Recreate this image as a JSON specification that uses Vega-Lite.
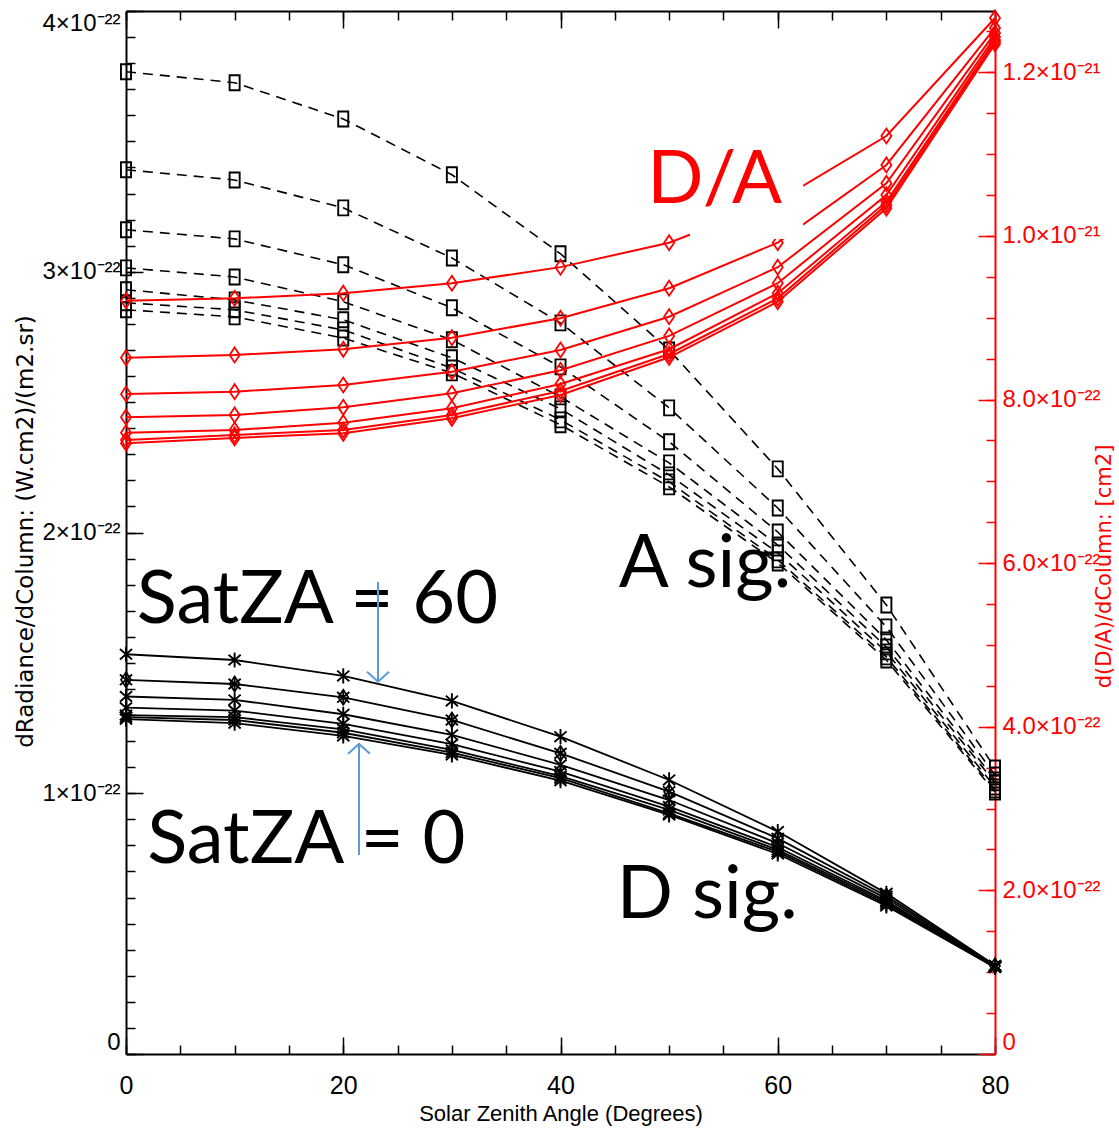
{
  "$schema": "https://vega.github.io/schema/vega-lite/v6.json",
  "width": 869,
  "height": 1043,
  "autosize": {"type": "none"},
  "padding": {"left": 126, "top": 11, "right": 124, "bottom": 77},
  "background": "white",
  "config": {
    "view": {"stroke": null},
    "axis": {"grid": false, "labelOverlap": false, "labelBound": false, "domainWidth": 2, "tickWidth": 1.5}
  },
  "datasets": {
    "curves": [
      {"signal":"A","satza":60,"sza":0,"value":3.767e-22},{"signal":"A","satza":60,"sza":10,"value":3.725e-22},{"signal":"A","satza":60,"sza":20,"value":3.586e-22},{"signal":"A","satza":60,"sza":30,"value":3.372e-22},{"signal":"A","satza":60,"sza":40,"value":3.069e-22},{"signal":"A","satza":60,"sza":50,"value":2.700e-22},{"signal":"A","satza":60,"sza":60,"value":2.244e-22},{"signal":"A","satza":60,"sza":70,"value":1.722e-22},{"signal":"A","satza":60,"sza":80,"value":1.097e-22},
      {"signal":"A","satza":50,"sza":0,"value":3.391e-22},{"signal":"A","satza":50,"sza":10,"value":3.352e-22},{"signal":"A","satza":50,"sza":20,"value":3.245e-22},{"signal":"A","satza":50,"sza":30,"value":3.053e-22},{"signal":"A","satza":50,"sza":40,"value":2.804e-22},{"signal":"A","satza":50,"sza":50,"value":2.478e-22},{"signal":"A","satza":50,"sza":60,"value":2.094e-22},{"signal":"A","satza":50,"sza":70,"value":1.638e-22},{"signal":"A","satza":50,"sza":80,"value":1.070e-22},
      {"signal":"A","satza":40,"sza":0,"value":3.161e-22},{"signal":"A","satza":40,"sza":10,"value":3.126e-22},{"signal":"A","satza":40,"sza":20,"value":3.027e-22},{"signal":"A","satza":40,"sza":30,"value":2.862e-22},{"signal":"A","satza":40,"sza":40,"value":2.635e-22},{"signal":"A","satza":40,"sza":50,"value":2.348e-22},{"signal":"A","satza":40,"sza":60,"value":2.002e-22},{"signal":"A","satza":40,"sza":70,"value":1.588e-22},{"signal":"A","satza":40,"sza":80,"value":1.051e-22},
      {"signal":"A","satza":30,"sza":0,"value":3.015e-22},{"signal":"A","satza":30,"sza":10,"value":2.980e-22},{"signal":"A","satza":30,"sza":20,"value":2.885e-22},{"signal":"A","satza":30,"sza":30,"value":2.739e-22},{"signal":"A","satza":30,"sza":40,"value":2.520e-22},{"signal":"A","satza":30,"sza":50,"value":2.267e-22},{"signal":"A","satza":30,"sza":60,"value":1.952e-22},{"signal":"A","satza":30,"sza":70,"value":1.561e-22},{"signal":"A","satza":30,"sza":80,"value":1.040e-22},
      {"signal":"A","satza":20,"sza":0,"value":2.931e-22},{"signal":"A","satza":20,"sza":10,"value":2.892e-22},{"signal":"A","satza":20,"sza":20,"value":2.816e-22},{"signal":"A","satza":20,"sza":30,"value":2.670e-22},{"signal":"A","satza":20,"sza":40,"value":2.474e-22},{"signal":"A","satza":20,"sza":50,"value":2.221e-22},{"signal":"A","satza":20,"sza":60,"value":1.922e-22},{"signal":"A","satza":20,"sza":70,"value":1.542e-22},{"signal":"A","satza":20,"sza":80,"value":1.024e-22},
      {"signal":"A","satza":10,"sza":0,"value":2.881e-22},{"signal":"A","satza":10,"sza":10,"value":2.854e-22},{"signal":"A","satza":10,"sza":20,"value":2.777e-22},{"signal":"A","satza":10,"sza":30,"value":2.631e-22},{"signal":"A","satza":10,"sza":40,"value":2.432e-22},{"signal":"A","satza":10,"sza":50,"value":2.194e-22},{"signal":"A","satza":10,"sza":60,"value":1.895e-22},{"signal":"A","satza":10,"sza":70,"value":1.523e-22},{"signal":"A","satza":10,"sza":80,"value":1.013e-22},
      {"signal":"A","satza":0,"sza":0,"value":2.854e-22},{"signal":"A","satza":0,"sza":10,"value":2.827e-22},{"signal":"A","satza":0,"sza":20,"value":2.746e-22},{"signal":"A","satza":0,"sza":30,"value":2.612e-22},{"signal":"A","satza":0,"sza":40,"value":2.413e-22},{"signal":"A","satza":0,"sza":50,"value":2.175e-22},{"signal":"A","satza":0,"sza":60,"value":1.883e-22},{"signal":"A","satza":0,"sza":70,"value":1.511e-22},{"signal":"A","satza":0,"sza":80,"value":1.005e-22},
      {"signal":"D","satza":60,"sza":0,"value":1.533e-22},{"signal":"D","satza":60,"sza":10,"value":1.511e-22},{"signal":"D","satza":60,"sza":20,"value":1.450e-22},{"signal":"D","satza":60,"sza":30,"value":1.354e-22},{"signal":"D","satza":60,"sza":40,"value":1.217e-22},{"signal":"D","satza":60,"sza":50,"value":1.051e-22},{"signal":"D","satza":60,"sza":60,"value":0.853e-22},{"signal":"D","satza":60,"sza":70,"value":0.616e-22},{"signal":"D","satza":60,"sza":80,"value":0.340e-22},
      {"signal":"D","satza":50,"sza":0,"value":1.435e-22},{"signal":"D","satza":50,"sza":10,"value":1.419e-22},{"signal":"D","satza":50,"sza":20,"value":1.368e-22},{"signal":"D","satza":50,"sza":30,"value":1.281e-22},{"signal":"D","satza":50,"sza":40,"value":1.153e-22},{"signal":"D","satza":50,"sza":50,"value":1.006e-22},{"signal":"D","satza":50,"sza":60,"value":0.827e-22},{"signal":"D","satza":50,"sza":70,"value":0.606e-22},{"signal":"D","satza":50,"sza":80,"value":0.338e-22},
      {"signal":"D","satza":40,"sza":0,"value":1.371e-22},{"signal":"D","satza":40,"sza":10,"value":1.358e-22},{"signal":"D","satza":40,"sza":20,"value":1.303e-22},{"signal":"D","satza":40,"sza":30,"value":1.224e-22},{"signal":"D","satza":40,"sza":40,"value":1.109e-22},{"signal":"D","satza":40,"sza":50,"value":0.974e-22},{"signal":"D","satza":40,"sza":60,"value":0.808e-22},{"signal":"D","satza":40,"sza":70,"value":0.597e-22},{"signal":"D","satza":40,"sza":80,"value":0.336e-22},
      {"signal":"D","satza":30,"sza":0,"value":1.328e-22},{"signal":"D","satza":30,"sza":10,"value":1.317e-22},{"signal":"D","satza":30,"sza":20,"value":1.266e-22},{"signal":"D","satza":30,"sza":30,"value":1.188e-22},{"signal":"D","satza":30,"sza":40,"value":1.083e-22},{"signal":"D","satza":30,"sza":50,"value":0.949e-22},{"signal":"D","satza":30,"sza":60,"value":0.793e-22},{"signal":"D","satza":30,"sza":70,"value":0.588e-22},{"signal":"D","satza":30,"sza":80,"value":0.335e-22},
      {"signal":"D","satza":20,"sza":0,"value":1.300e-22},{"signal":"D","satza":20,"sza":10,"value":1.292e-22},{"signal":"D","satza":20,"sza":20,"value":1.245e-22},{"signal":"D","satza":20,"sza":30,"value":1.166e-22},{"signal":"D","satza":20,"sza":40,"value":1.066e-22},{"signal":"D","satza":20,"sza":50,"value":0.936e-22},{"signal":"D","satza":20,"sza":60,"value":0.783e-22},{"signal":"D","satza":20,"sza":70,"value":0.582e-22},{"signal":"D","satza":20,"sza":80,"value":0.334e-22},
      {"signal":"D","satza":10,"sza":0,"value":1.292e-22},{"signal":"D","satza":10,"sza":10,"value":1.281e-22},{"signal":"D","satza":10,"sza":20,"value":1.232e-22},{"signal":"D","satza":10,"sza":30,"value":1.156e-22},{"signal":"D","satza":10,"sza":40,"value":1.058e-22},{"signal":"D","satza":10,"sza":50,"value":0.923e-22},{"signal":"D","satza":10,"sza":60,"value":0.775e-22},{"signal":"D","satza":10,"sza":70,"value":0.575e-22},{"signal":"D","satza":10,"sza":80,"value":0.333e-22},
      {"signal":"D","satza":0,"sza":0,"value":1.284e-22},{"signal":"D","satza":0,"sza":10,"value":1.269e-22},{"signal":"D","satza":0,"sza":20,"value":1.220e-22},{"signal":"D","satza":0,"sza":30,"value":1.147e-22},{"signal":"D","satza":0,"sza":40,"value":1.048e-22},{"signal":"D","satza":0,"sza":50,"value":0.917e-22},{"signal":"D","satza":0,"sza":60,"value":0.767e-22},{"signal":"D","satza":0,"sza":70,"value":0.568e-22},{"signal":"D","satza":0,"sza":80,"value":0.332e-22},
      {"signal":"DA","satza":60,"sza":0,"value":9.209e-22},{"signal":"DA","satza":60,"sza":10,"value":9.238e-22},{"signal":"DA","satza":60,"sza":20,"value":9.300e-22},{"signal":"DA","satza":60,"sza":30,"value":9.422e-22},{"signal":"DA","satza":60,"sza":40,"value":9.619e-22},{"signal":"DA","satza":60,"sza":50,"value":9.918e-22},{"signal":"DA","satza":60,"sza":60,"value":10.428e-22},{"signal":"DA","satza":60,"sza":70,"value":11.222e-22},{"signal":"DA","satza":60,"sza":80,"value":12.665e-22},
      {"signal":"DA","satza":50,"sza":0,"value":8.512e-22},{"signal":"DA","satza":50,"sza":10,"value":8.545e-22},{"signal":"DA","satza":50,"sza":20,"value":8.615e-22},{"signal":"DA","satza":50,"sza":30,"value":8.757e-22},{"signal":"DA","satza":50,"sza":40,"value":8.994e-22},{"signal":"DA","satza":50,"sza":50,"value":9.361e-22},{"signal":"DA","satza":50,"sza":60,"value":9.918e-22},{"signal":"DA","satza":50,"sza":70,"value":10.868e-22},{"signal":"DA","satza":50,"sza":80,"value":12.543e-22},
      {"signal":"DA","satza":40,"sza":0,"value":8.068e-22},{"signal":"DA","satza":40,"sza":10,"value":8.097e-22},{"signal":"DA","satza":40,"sza":20,"value":8.178e-22},{"signal":"DA","satza":40,"sza":30,"value":8.341e-22},{"signal":"DA","satza":40,"sza":40,"value":8.606e-22},{"signal":"DA","satza":40,"sza":50,"value":9.013e-22},{"signal":"DA","satza":40,"sza":60,"value":9.618e-22},{"signal":"DA","satza":40,"sza":70,"value":10.644e-22},{"signal":"DA","satza":40,"sza":80,"value":12.482e-22},
      {"signal":"DA","satza":30,"sza":0,"value":7.784e-22},{"signal":"DA","satza":30,"sza":10,"value":7.812e-22},{"signal":"DA","satza":30,"sza":20,"value":7.906e-22},{"signal":"DA","satza":30,"sza":30,"value":8.077e-22},{"signal":"DA","satza":30,"sza":40,"value":8.358e-22},{"signal":"DA","satza":30,"sza":50,"value":8.778e-22},{"signal":"DA","satza":30,"sza":60,"value":9.422e-22},{"signal":"DA","satza":30,"sza":70,"value":10.501e-22},{"signal":"DA","satza":30,"sza":80,"value":12.433e-22},
      {"signal":"DA","satza":20,"sza":0,"value":7.595e-22},{"signal":"DA","satza":20,"sza":10,"value":7.628e-22},{"signal":"DA","satza":20,"sza":20,"value":7.718e-22},{"signal":"DA","satza":20,"sza":30,"value":7.894e-22},{"signal":"DA","satza":20,"sza":40,"value":8.191e-22},{"signal":"DA","satza":20,"sza":50,"value":8.615e-22},{"signal":"DA","satza":20,"sza":60,"value":9.300e-22},{"signal":"DA","satza":20,"sza":70,"value":10.419e-22},{"signal":"DA","satza":20,"sza":80,"value":12.396e-22},
      {"signal":"DA","satza":10,"sza":0,"value":7.506e-22},{"signal":"DA","satza":10,"sza":10,"value":7.567e-22},{"signal":"DA","satza":10,"sza":20,"value":7.628e-22},{"signal":"DA","satza":10,"sza":30,"value":7.812e-22},{"signal":"DA","satza":10,"sza":40,"value":8.105e-22},{"signal":"DA","satza":10,"sza":50,"value":8.557e-22},{"signal":"DA","satza":10,"sza":60,"value":9.238e-22},{"signal":"DA","satza":10,"sza":70,"value":10.379e-22},{"signal":"DA","satza":10,"sza":80,"value":12.372e-22},
      {"signal":"DA","satza":0,"sza":0,"value":7.466e-22},{"signal":"DA","satza":0,"sza":10,"value":7.531e-22},{"signal":"DA","satza":0,"sza":20,"value":7.588e-22},{"signal":"DA","satza":0,"sza":30,"value":7.771e-22},{"signal":"DA","satza":0,"sza":40,"value":8.056e-22},{"signal":"DA","satza":0,"sza":50,"value":8.517e-22},{"signal":"DA","satza":0,"sza":60,"value":9.196e-22},{"signal":"DA","satza":0,"sza":70,"value":10.339e-22},{"signal":"DA","satza":0,"sza":80,"value":12.347e-22}
    ],
    "notes": [
      {"label": "SatZA = 60", "sza": 1.0, "value": 1.653e-22, "anchor": "left"},
      {"label": "SatZA = 0", "sza": 1.95, "value": 0.733e-22, "anchor": "left"},
      {"label": "A sig.", "sza": 53.3, "value": 1.791e-22, "anchor": "center"},
      {"label": "D sig.", "sza": 53.5, "value": 0.522e-22, "anchor": "center"}
    ],
    "arrows": [
      {"arrow": "SatZA = 60", "sza": 23.2, "from": 1.81e-22, "to": 1.428e-22},
      {"arrow": "SatZA = 0", "sza": 21.45, "from": 0.763e-22, "to": 1.189e-22}
    ]
  },
  "data": {"name": "curves"},
  "layer": [
    {
      "encoding": {
        "x": {"field": "sza", "type": "quantitative", "scale": {"domain": [0, 80], "nice": false, "zero": false}, "axis": null},
        "y": {"field": "value", "type": "quantitative", "scale": {"domain": [0, 4e-22], "nice": false, "zero": false}, "axis": null}
      },
      "layer": [
        {
          "transform": [{"filter": "datum.signal === 'A'"}],
          "mark": {"type": "line", "color": "black", "strokeWidth": 1.6, "strokeDash": [10, 7]},
          "encoding": {
            "detail": {"field": "satza", "type": "nominal"},
            "x": {
              "field": "sza", "type": "quantitative", "scale": {"domain": [0, 80], "nice": false, "zero": false},
              "axis": {
                "orient": "bottom", "values": [0, 20, 40, 60, 80], "tickSize": -17,
                "tickColor": "black", "domainColor": "black", "labelFlush": false,
                "labelFont": "Liberation Sans Narrow, Liberation Sans", "labelFontSize": 25, "labelColor": "black", "labelPadding": 36,
                "title": "Solar Zenith Angle (Degrees)",
                "titleFont": "Liberation Sans Narrow, Liberation Sans", "titleFontSize": 22, "titleFontWeight": "normal", "titleColor": "black",
                "titleY": 59, "titleBaseline": "middle"
              }
            },
            "y": {
              "field": "value", "type": "quantitative", "scale": {"domain": [0, 4e-22], "nice": false, "zero": false},
              "axis": {
                "orient": "left", "values": [0, 1e-22, 2e-22, 3e-22, 4e-22], "tickSize": -17,
                "tickColor": "black", "domainColor": "black",
                "labelExpr": "datum.value == 0 ? '0' : format(datum.value*1e22, 'd') + '×10⁻²²'",
                "labelFont": "Liberation Sans", "labelFontSize": 24, "labelColor": "black",
                "labelPadding": 23, "labelFlush": true,
                "title": "dRadiance/dColumn: (W.cm2)/(m2.sr)",
                "titleFont": "DejaVu Sans", "titleFontSize": 23, "titleFontWeight": "normal", "titleColor": "black",
                "titleAngle": -90, "titleX": -101, "titleY": 520, "titleBaseline": "middle", "titleAlign": "center"
              }
            }
          }
        },
        {
          "transform": [{"filter": "datum.signal === 'A'"}],
          "mark": {"type": "point", "shape": "M-0.67,-1L0.67,-1L0.67,1L-0.67,1Z", "size": 225, "filled": false, "color": "black", "strokeWidth": 1.9, "opacity": 1},
          "encoding": {
            "x": {
              "field": "sza", "type": "quantitative", "scale": {"domain": [0, 80], "nice": false, "zero": false},
              "axis": {"orient": "bottom", "values": [0,5,10,15,20,25,30,35,40,45,50,55,60,65,70,75,80], "tickSize": -9, "tickColor": "black", "domain": false, "labels": false, "title": null}
            },
            "y": {
              "field": "value", "type": "quantitative", "scale": {"domain": [0, 4e-22], "nice": false, "zero": false},
              "axis": {"orient": "left", "values": [0,1e-23,2e-23,3e-23,4e-23,5e-23,6e-23,7e-23,8e-23,9e-23,1e-22,1.1e-22,1.2e-22,1.3e-22,1.4e-22,1.5e-22,1.6e-22,1.7e-22,1.8e-22,1.9e-22,2e-22,2.1e-22,2.2e-22,2.3e-22,2.4e-22,2.5e-22,2.6e-22,2.7e-22,2.8e-22,2.9e-22,3e-22,3.1e-22,3.2e-22,3.3e-22,3.4e-22,3.5e-22,3.6e-22,3.7e-22,3.8e-22,3.9e-22,4e-22], "tickSize": -9, "tickColor": "black", "domain": false, "labels": false, "title": null}
            }
          }
        },
        {
          "transform": [{"filter": "datum.signal === 'D'"}],
          "mark": {"type": "line", "color": "black", "strokeWidth": 1.8},
          "encoding": {"detail": {"field": "satza", "type": "nominal"}}
        },
        {
          "transform": [{"filter": "datum.signal === 'D'"}],
          "mark": {"type": "point", "shape": "M0,-1L0,1M-0.8,-0.7L0.8,0.7M-0.8,0.7L0.8,-0.7", "size": 230, "filled": false, "color": "black", "strokeWidth": 1.9, "opacity": 1}
        },
        {
          "transform": [{"filter": "datum.signal === 'D' && datum.satza === 50"}],
          "mark": {"type": "point", "shape": "M0,-1L0.67,0L0,1L-0.67,0Z", "size": 225, "filled": false, "color": "black", "strokeWidth": 1.7, "opacity": 1}
        },
        {
          "data": {"name": "notes"},
          "transform": [{"filter": "datum.anchor === 'left'"}],
          "mark": {"type": "text", "font": "Lato", "fontSize": 74, "align": "left", "baseline": "alphabetic", "color": "black"},
          "encoding": {"text": {"field": "label"}}
        },
        {
          "data": {"name": "notes"},
          "transform": [{"filter": "datum.anchor === 'center'"}],
          "mark": {"type": "text", "font": "Lato", "fontSize": 74, "align": "center", "baseline": "alphabetic", "color": "black"},
          "encoding": {"text": {"field": "label"}}
        },
        {
          "data": {"name": "arrows"},
          "mark": {"type": "rule", "color": "#5B9BD5", "strokeWidth": 2},
          "encoding": {"y": {"field": "from", "type": "quantitative", "axis": null}, "y2": {"field": "to"}}
        },
        {
          "data": {"name": "arrows"},
          "mark": {"type": "point", "size": 480, "filled": false, "color": "#5B9BD5", "strokeWidth": 2, "opacity": 1},
          "encoding": {
            "y": {"field": "to", "type": "quantitative", "axis": null},
            "shape": {"field": "arrow", "type": "nominal", "scale": {"domain": ["SatZA = 60", "SatZA = 0"], "range": ["M-1,-0.9L0,0L1,-0.9", "M-1,0.9L0,0L1,0.9"]}, "legend": null}
          }
        }
      ],
      "resolve": {"axis": {"x": "independent", "y": "independent"}}
    },
    {
      "encoding": {
        "x": {"field": "sza", "type": "quantitative", "scale": {"domain": [0, 80], "nice": false, "zero": false}, "axis": null},
        "y": {"field": "value", "type": "quantitative", "scale": {"domain": [0, 1.275e-21], "nice": false, "zero": false}, "axis": null}
      },
      "layer": [
        {
          "transform": [{"filter": "datum.signal === 'DA'"}],
          "mark": {"type": "line", "color": "#ff0000", "strokeWidth": 2},
          "encoding": {
            "detail": {"field": "satza", "type": "nominal"},
            "x": {
              "field": "sza", "type": "quantitative", "scale": {"domain": [0, 80], "nice": false, "zero": false},
              "axis": {"orient": "top", "values": [0, 20, 40, 60, 80], "tickSize": -17, "tickColor": "black", "domainColor": "black", "labels": false, "title": null}
            },
            "y": {
              "field": "value", "type": "quantitative", "scale": {"domain": [0, 1.275e-21], "nice": false, "zero": false},
              "axis": {
                "orient": "right", "values": [0, 2e-22, 4e-22, 6e-22, 8e-22, 1e-21, 1.2e-21], "tickSize": -17,
                "tickColor": "#ff0000", "domainColor": "#ff0000",
                "labelExpr": "datum.value == 0 ? '0' : (datum.value < 9.9e-22 ? format(datum.value*1e22, '.1f') + '×10⁻²²' : format(datum.value*1e21, '.1f') + '×10⁻²¹')",
                "labelFont": "Liberation Sans Narrow, Liberation Sans", "labelFontSize": 24, "labelColor": "#ff0000",
                "labelPadding": 24, "labelFlush": true,
                "title": "d(D/A)/dColumn: [cm2]",
                "titleFont": "DejaVu Sans", "titleFontSize": 21, "titleFontWeight": "normal", "titleColor": "#ff0000",
                "titleAngle": -90, "titleX": 109, "titleY": 555, "titleBaseline": "middle", "titleAlign": "center"
              }
            }
          }
        },
        {
          "transform": [{"filter": "datum.signal === 'DA'"}],
          "mark": {"type": "point", "shape": "M0,-1L0.67,0L0,1L-0.67,0Z", "size": 225, "filled": false, "color": "#ff0000", "strokeWidth": 1.8, "opacity": 1},
          "encoding": {
            "x": {
              "field": "sza", "type": "quantitative", "scale": {"domain": [0, 80], "nice": false, "zero": false},
              "axis": {"orient": "top", "values": [0,5,10,15,20,25,30,35,40,45,50,55,60,65,70,75,80], "tickSize": -9, "tickColor": "black", "domain": false, "labels": false, "title": null}
            },
            "y": {
              "field": "value", "type": "quantitative", "scale": {"domain": [0, 1.275e-21], "nice": false, "zero": false},
              "axis": {"orient": "right", "values": [0,5e-23,1e-22,1.5e-22,2e-22,2.5e-22,3e-22,3.5e-22,4e-22,4.5e-22,5e-22,5.5e-22,6e-22,6.5e-22,7e-22,7.5e-22,8e-22,8.5e-22,9e-22,9.5e-22,1e-21,1.05e-21,1.1e-21,1.15e-21,1.2e-21,1.25e-21], "tickSize": -9, "tickColor": "#ff0000", "domain": false, "labels": false, "title": null}
            }
          }
        },
        {
          "data": {"values": [{"label": "D/A", "sza": 51.93, "sza2": 62.34, "value": 9.963e-22, "value2": 11.32e-22, "textsza": 54.19, "textvalue": 10.403e-22}]},
          "layer": [
            {
              "mark": {"type": "rect", "fill": "white"},
              "encoding": {"x2": {"field": "sza2"}, "y2": {"field": "value2"}}
            },
            {
              "mark": {"type": "text", "font": "Lato", "fontSize": 74, "align": "center", "baseline": "alphabetic", "color": "#ff0000"},
              "encoding": {"text": {"field": "label"}, "x": {"field": "textsza", "type": "quantitative", "axis": null}, "y": {"field": "textvalue", "type": "quantitative", "axis": null}}
            }
          ]
        }
      ],
      "resolve": {"axis": {"x": "independent", "y": "independent"}}
    }
  ],
  "resolve": {"scale": {"y": "independent"}, "axis": {"x": "independent", "y": "independent"}}
}
